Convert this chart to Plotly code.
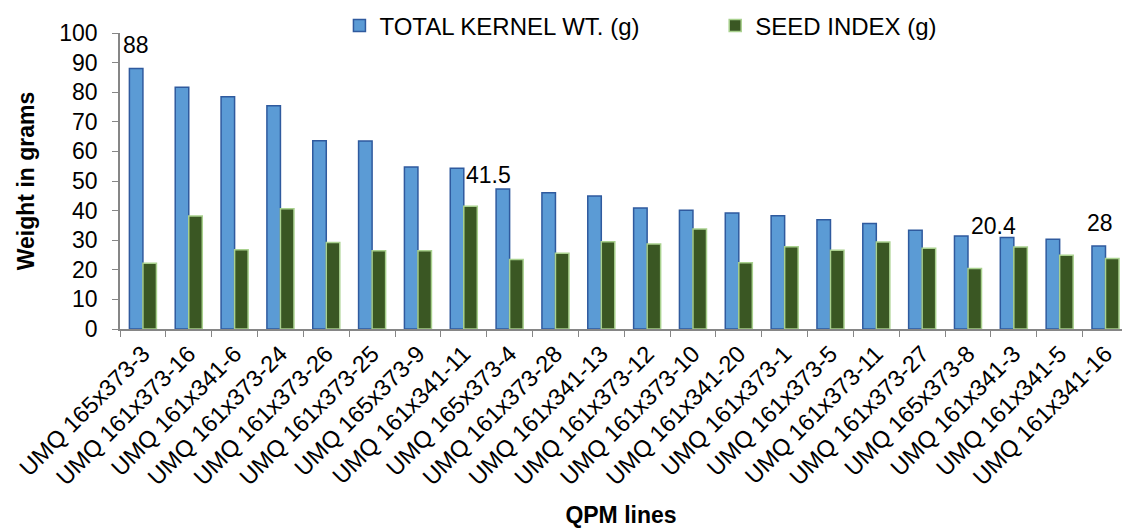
import plotly.graph_objects as go

# QPM lines and their measured weights (g)
lines = [
    "UMQ 165x373-3", "UMQ 161x373-16", "UMQ 161x341-6", "UMQ 161x373-24",
    "UMQ 161x373-26", "UMQ 161x373-25", "UMQ 165x373-9", "UMQ 161x341-11",
    "UMQ 165x373-4", "UMQ 161x373-28", "UMQ 161x341-13", "UMQ 161x373-12",
    "UMQ 161x373-10", "UMQ 161x341-20", "UMQ 161x373-1", "UMQ 161x373-5",
    "UMQ 161x373-11", "UMQ 161x373-27", "UMQ 165x373-8", "UMQ 161x341-3",
    "UMQ 161x341-5", "UMQ 161x341-16",
]
total_kernel_wt = [
    88, 81.7, 78.5, 75.4, 63.6, 63.5, 54.7, 54.3, 47.3, 46.0, 44.9,
    40.9, 40.1, 39.2, 38.3, 36.9, 35.6, 33.4, 31.4, 30.9, 30.3, 28,
]
seed_index = [
    22.2, 38.2, 26.8, 40.6, 29.2, 26.4, 26.4, 41.5, 23.5, 25.6, 29.5,
    28.7, 33.8, 22.4, 27.8, 26.6, 29.4, 27.3, 20.4, 27.7, 24.9, 23.8,
]
y_ticks = list(range(0, 101, 10))

FONT = "Arial, Liberation Sans, sans-serif"
FS = 23

fig = go.Figure()
fig.add_trace(go.Bar(
    x=lines, y=total_kernel_wt, name="TOTAL KERNEL WT. (g)",
    marker=dict(color="#5B9BD5", line=dict(color="#2F5A9E", width=1.5)),
    legend="legend", showlegend=True,
))
fig.add_trace(go.Bar(
    x=lines, y=seed_index, name="SEED INDEX (g)",
    marker=dict(color="#3A5723", line=dict(color="#A9D18E", width=1.5)),
    legend="legend2", showlegend=True,
))

# value labels: (series, index, x offset px, y offset px)
labels = [
    (total_kernel_wt, 0, -7, 24),
    (seed_index, 7, 25, 31),
    (seed_index, 18, 26, 43),
    (total_kernel_wt, 21, -6, 23),
]
for series, i, dx, dy in labels:
    v = series[i]
    fig.add_annotation(
        x=lines[i], y=v, text=f"{v:g}", showarrow=False,
        xshift=dx, yshift=dy, font=dict(family=FONT, size=FS, color="black"),
    )

n = len(lines)
legend_style = dict(
    orientation="h", y=1.024, xanchor="left", yanchor="middle",
    font=dict(family=FONT, size=24), bgcolor="rgba(0,0,0,0)",
)
fig.update_layout(
    width=1122, height=528,
    margin=dict(l=120, r=0, t=33, b=199, autoexpand=False),
    paper_bgcolor="white", plot_bgcolor="white",
    showlegend=True,
    barmode="group", bargap=0.41, bargroupgap=0,
    font=dict(family=FONT, size=FS, color="black"),
    legend=dict(x=0.219, **legend_style),
    legend2=dict(x=0.594, **legend_style),
    xaxis=dict(
        type="category", range=[-0.5, n - 0.64], tickangle=-45,
        tickson="boundaries", ticks="outside", ticklen=6, tickcolor="#868686",
        showline=True, linecolor="#868686", linewidth=1.5,
        showgrid=False, automargin=False,
        tickfont=dict(family=FONT, size=23.5),
        title=dict(text="<b>QPM lines</b>", standoff=20,
                   font=dict(family=FONT, size=FS)),
    ),
    yaxis=dict(
        range=[0, 100], tickvals=y_ticks, ticks="outside", ticklen=6,
        tickcolor="#868686", showline=True, linecolor="#868686", linewidth=1.5,
        showgrid=False, zeroline=False, automargin=False,
        tickfont=dict(family=FONT, size=FS), ticklabelstandoff=10,
        title=dict(text="<b>Weight in grams</b>", standoff=18,
                   font=dict(family=FONT, size=FS)),
    ),
)

fig.write_html("out.html")
